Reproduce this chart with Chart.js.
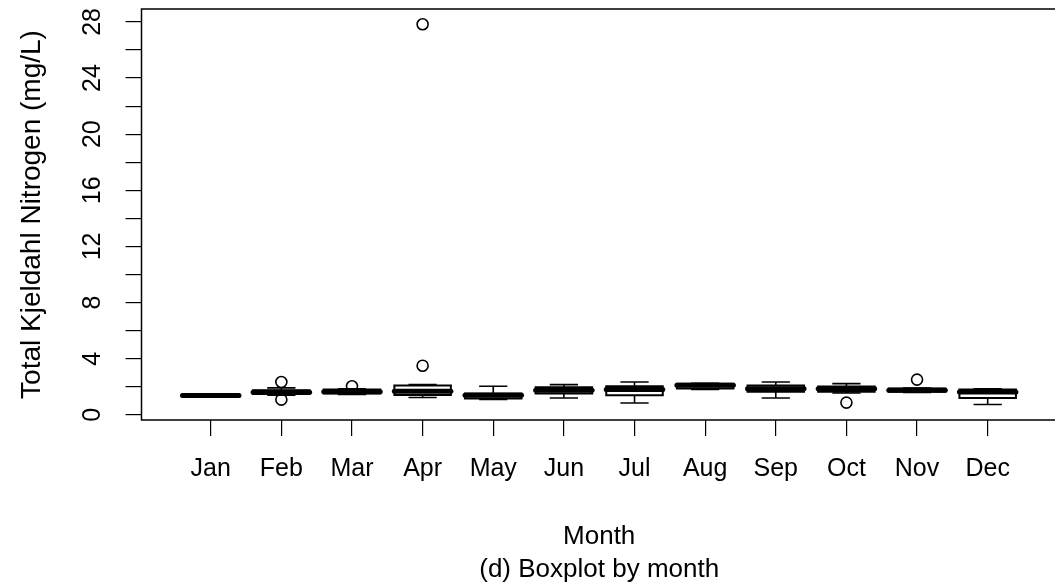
<!DOCTYPE html>
<html>
<head>
<meta charset="utf-8">
<script src="https://cdn.jsdelivr.net/npm/chart.js@4/dist/chart.umd.min.js"></script>
<style>
  html, body { margin: 0; padding: 0; background: #ffffff; overflow: hidden; width: 1055px; height: 582px; }
  #wrap { position: absolute; left: 0; top: 0; width: 1064px; height: 582px; }
</style>
</head>
<body>
<div id="wrap"><canvas id="c" width="1064" height="582"></canvas></div>
<script>
// ---- data ----
const months = ['Jan','Feb','Mar','Apr','May','Jun','Jul','Aug','Sep','Oct','Nov','Dec'];
const whiskerLow  = [1.30, 1.40, 1.45, 1.23, 1.10, 1.20, 0.84, 1.80, 1.20, 1.55, 1.60, 0.73];
const q1          = [1.33, 1.48, 1.51, 1.41, 1.16, 1.51, 1.39, 1.88, 1.65, 1.65, 1.65, 1.20];
const medians     = [1.38, 1.60, 1.65, 1.68, 1.40, 1.75, 1.80, 2.10, 1.85, 1.85, 1.75, 1.63];
const q3          = [1.45, 1.75, 1.80, 2.08, 1.51, 1.96, 2.03, 2.22, 2.08, 2.01, 1.87, 1.80];
const whiskerHigh = [1.48, 1.92, 1.85, 2.15, 2.03, 2.15, 2.34, 2.25, 2.34, 2.22, 1.90, 1.85];
const outlierMonth = [2, 2, 3, 4, 4, 10, 11];
const outlierValue = [2.34, 1.08, 2.03, 3.50, 27.83, 0.87, 2.51];
const yTickValues = [0, 2, 4, 6, 8, 10, 12, 14, 16, 18, 20, 22, 24, 26, 28];
const yTickLabels = ['0', '4', '8', '12', '16', '20', '24', '28'];
const yLabelValues = [0, 4, 8, 12, 16, 20, 24, 28];
const xLabel = ['Month', '(d) Boxplot by month'];
const yLabel = 'Total Kjeldahl Nitrogen (mg/L)';

const FONT = '"Liberation Sans", Arial, Helvetica, sans-serif';
const FS_TICK = 25;
const FS_XT = 26;
const FS_YT = 28;

const boxPlugin = {
  id: 'boxes',
  beforeDatasetsDraw(chart) {
    const ctx = chart.ctx, xs = chart.scales.x, ys = chart.scales.y;
    const hw = 0.4 * (xs.getPixelForValue(2) - xs.getPixelForValue(1));
    ctx.save();
    ctx.strokeStyle = '#000';
    for (let i = 0; i < months.length; i++) {
      const x = xs.getPixelForValue(i + 1);
      const yl = ys.getPixelForValue(whiskerLow[i]);
      const y1 = ys.getPixelForValue(q1[i]);
      const ym = ys.getPixelForValue(medians[i]);
      const y3 = ys.getPixelForValue(q3[i]);
      const yh = ys.getPixelForValue(whiskerHigh[i]);
      // whiskers
      ctx.lineWidth = 1.6; ctx.lineCap = 'butt';
      ctx.beginPath();
      ctx.moveTo(x, y3); ctx.lineTo(x, yh);
      ctx.moveTo(x, y1); ctx.lineTo(x, yl);
      ctx.moveTo(x - hw / 2, yh); ctx.lineTo(x + hw / 2, yh);
      ctx.moveTo(x - hw / 2, yl); ctx.lineTo(x + hw / 2, yl);
      ctx.stroke();
      // box
      ctx.fillStyle = '#fff';
      ctx.lineWidth = 2;
      ctx.beginPath();
      ctx.rect(x - hw, y3, 2 * hw, y1 - y3);
      ctx.fill();
      ctx.stroke();
      // median
      ctx.lineWidth = 5; ctx.lineCap = 'round';
      ctx.beginPath();
      ctx.moveTo(x - hw, ym); ctx.lineTo(x + hw, ym);
      ctx.stroke();
    }
    ctx.restore();
  },
  afterDraw(chart) {
    const ctx = chart.ctx, ys = chart.scales.y, a = chart.chartArea;
    ctx.save();
    // plot frame
    ctx.strokeStyle = '#000';
    ctx.lineWidth = 1.5;
    ctx.strokeRect(a.left, a.top, a.right - a.left, a.bottom - a.top);
    // rotated y tick labels (R style, parallel to axis)
    ctx.fillStyle = '#000';
    ctx.font = FS_TICK + 'px ' + FONT;
    ctx.textAlign = 'center';
    ctx.textBaseline = 'middle';
    for (let i = 0; i < yLabelValues.length; i++) {
      ctx.save();
      ctx.translate(93, ys.getPixelForValue(yLabelValues[i]));
      ctx.rotate(-Math.PI / 2);
      ctx.fillText(yTickLabels[i], 0, 0);
      ctx.restore();
    }
    ctx.restore();
  }
};

new Chart(document.getElementById('c'), {
  type: 'scatter',
  data: {
    datasets: [{
      data: outlierMonth.map((m, i) => ({ x: m, y: outlierValue[i] })),
      pointStyle: 'circle',
      pointRadius: 5.5,
      pointBorderWidth: 1.6,
      pointBorderColor: '#000',
      pointBackgroundColor: 'rgba(0,0,0,0)'
    }]
  },
  options: {
    responsive: false,
    animation: false,
    events: [],
    layout: { padding: { top: 9, left: 0, right: 0, bottom: 0 } },
    plugins: { legend: { display: false }, tooltip: { enabled: false } },
    scales: {
      x: {
        type: 'linear',
        min: 0.02, max: 12.98,
        afterBuildTicks(s) { s.ticks = months.map((m, i) => ({ value: i + 1 })); },
        afterFit(s) { s.height = 162; },
        grid: { display: true, drawOnChartArea: false, drawTicks: true, tickLength: 16, color: '#000', lineWidth: 1.2 },
        border: { display: false },
        ticks: {
          autoSkip: false, maxRotation: 0, minRotation: 0, padding: 18,
          color: '#000', font: { family: FONT, size: FS_TICK },
          callback: (v) => months[v - 1]
        },
        title: {
          display: true, text: xLabel, color: '#000',
          font: { family: FONT, size: FS_XT, lineHeight: '33px' },
          padding: { top: 0, bottom: -4 }
        }
      },
      y: {
        type: 'linear',
        min: -0.37, max: 28.92,
        afterBuildTicks(s) { s.ticks = yTickValues.map(v => ({ value: v })); },
        afterFit(s) { s.width = 141.5; },
        grid: { display: true, drawOnChartArea: false, drawTicks: true, tickLength: 16, color: '#000', lineWidth: 1.2 },
        border: { display: false },
        ticks: { display: false },
        title: {
          display: true, text: yLabel, color: '#000',
          font: { family: FONT, size: FS_YT, lineHeight: '34px' },
          padding: { top: 15, bottom: 0 }
        }
      }
    }
  },
  plugins: [boxPlugin]
});
</script>
</body>
</html>
